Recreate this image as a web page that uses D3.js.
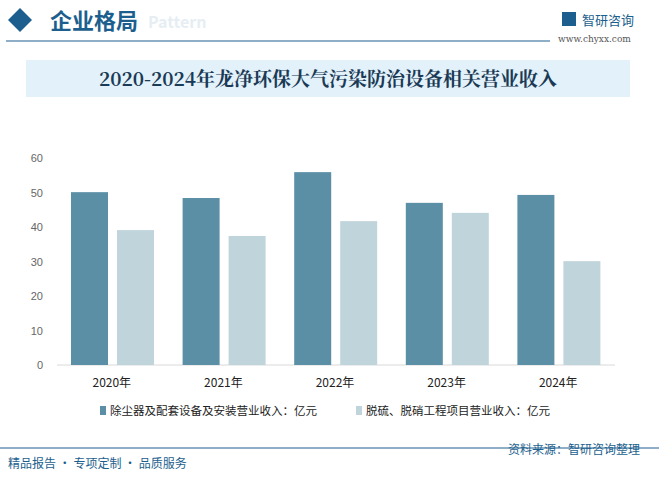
<!DOCTYPE html>
<html><head><meta charset="utf-8">
<script src="https://cdn.jsdelivr.net/npm/d3@7"></script>
<style>body{margin:0;background:#fff;font-family:"Noto Sans CJK SC","Noto Sans",sans-serif}</style>
</head><body><div id="chart"></div>
<script>
const years = ['2020年', '2021年', '2022年', '2023年', '2024年'];
const dustRevenue = [50.1, 48.4, 55.9, 47.0, 49.3];
const desulfRevenue = [39.1, 37.4, 41.7, 44.1, 30.1];
const seriesNames = ['除尘器及配套设备及安装营业收入：亿元', '脱硫、脱硝工程项目营业收入：亿元'];
const colors = ['#5b8fa6', '#c0d4dc'];
const yTicks = [0, 10, 20, 30, 40, 50, 60];

const W = 659, H = 479;
const svg = d3.select('#chart').append('svg').attr('width', W).attr('height', H);

// header
svg.append('path').attr('d', 'M8,20 L20,8 L32,20 L20,32 Z').attr('fill', '#1c5f8e');
svg.append('text').attr('x', 148).attr('y', 28).text('Pattern')
  .style('font-size', '16px').style('font-weight', 'bold').attr('fill', '#e6eef4');
svg.append('text').attr('x', 50).attr('y', 29).text('企业格局')
  .style('font-size', '22px').style('font-weight', 'bold').attr('fill', '#1c5f8e');
svg.append('line').attr('x1', 6).attr('x2', 550).attr('y1', 41).attr('y2', 41).attr('stroke', '#1c5f8e');
svg.append('rect').attr('x', 562).attr('y', 12).attr('width', 14).attr('height', 14).attr('fill', '#1c5f8e');
svg.append('text').attr('x', 582).attr('y', 25).text('智研咨询').style('font-size', '13px').attr('fill', '#1c5f8e');
svg.append('text').attr('x', 558).attr('y', 42).text('www.chyxx.com')
  .style('font-family', 'DejaVu Serif').style('font-size', '9px').attr('fill', '#555');

// title band
svg.append('rect').attr('x', 26).attr('y', 60).attr('width', 604).attr('height', 37).attr('fill', '#e3f1fa');
svg.append('text').attr('x', 328).attr('y', 86).attr('text-anchor', 'middle')
  .text('2020-2024年龙净环保大气污染防治设备相关营业收入')
  .style('font-family', '"Noto Serif CJK SC","Noto Sans CJK SC",serif')
  .style('font-size', '19px').style('font-weight', 'bold').attr('fill', '#1a3a55');

// chart
const x = d3.scaleBand().domain(years).range([57, 615]);
const y = d3.scaleLinear().domain([0, 60]).range([365, 158]);
const g = svg.append('g');

const yAxis = g.append('g').attr('transform', 'translate(46,0)')
  .call(d3.axisLeft(y).tickValues(yTicks).tickSize(0));
yAxis.select('.domain').remove();
yAxis.selectAll('text').style('font-size', '11px').attr('fill', '#666');

g.append('line').attr('x1', 57).attr('x2', 615).attr('y1', 365).attr('y2', 365).attr('stroke', '#d9d9d9');

const barW = 37, gap = 9;
[dustRevenue, desulfRevenue].forEach((vals, s) => {
  g.selectAll('.bar' + s).data(vals).join('rect')
    .attr('x', (d, i) => x(years[i]) + 14 + s * (barW + gap))
    .attr('y', d => y(d)).attr('width', barW).attr('height', d => 365 - y(d))
    .attr('fill', colors[s]);
});

g.selectAll('.xl').data(years).join('text')
  .attr('x', d => x(d) + x.bandwidth() / 2 - 1).attr('y', 387).attr('text-anchor', 'middle')
  .text(d => d).style('font-size', '12px').attr('fill', '#222');

// legend
const legX = [100, 356];
seriesNames.forEach((n, i) => {
  svg.append('rect').attr('x', legX[i]).attr('y', 406).attr('width', 6).attr('height', 9).attr('fill', colors[i]);
  svg.append('text').attr('x', legX[i] + 10).attr('y', 415).text(n).style('font-size', '11.5px').attr('fill', '#222');
});

// footer
svg.append('text').attr('x', 508).attr('y', 454).text('资料来源：智研咨询整理').style('font-size', '12px').attr('fill', '#1c5f8e');
svg.append('line').attr('x1', 0).attr('x2', W).attr('y1', 448).attr('y2', 448).attr('stroke', '#1c5f8e');
svg.append('text').attr('x', 8).attr('y', 468).text('精品报告 · 专项定制 · 品质服务').style('font-size', '12px').attr('fill', '#1c5f8e');
</script></body></html>
